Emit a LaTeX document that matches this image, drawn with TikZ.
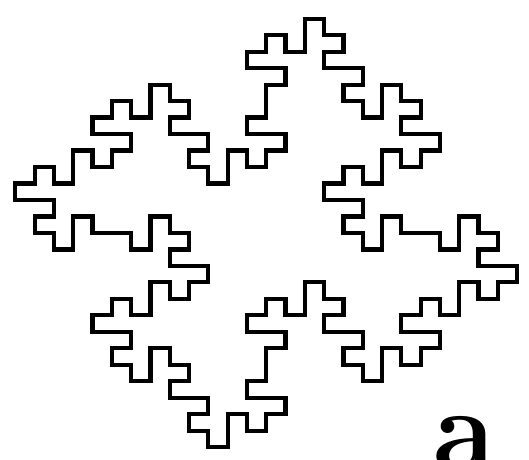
\documentclass[tikz,border=0pt]{standalone}
\begin{document}
\begin{tikzpicture}[x=1pt,y=1pt]
\tikzset{fractal/.style={line width=4.2pt, line join=miter, draw=black},
         tag/.style={inner sep=0pt, font=\fontsize{115}{115}\selectfont\bfseries}}
\useasboundingbox (0,0) rectangle (529,-459);
\clip (0,0) rectangle (529,-459);
\def\quarter{15/0,15/2,14/2,14/1,13/1,13/2,12/2,12/3,14/3,14/4,13/4,13/6,12/6,12/7,14/7,14/8,13/8,13/9,12/9,12/8,11/8,11/10,10/10,10/9,9/9,9/8,10/8,10/7,8/7,8/6,9/6,9/5,8/5,8/4,7/4,7/6,6/6,6/5,5/5,5/6,4/6,4/7,6/7,6/8,5/8,5/9,4/9,4/8,3/8,3/10,2/10,2/9,1/9,1/10,0/10}
\begin{scope}[shift={(15.3pt,-18.7pt)}, x=19.3pt, y=-16.48pt]
\draw[fractal] (15.5,0)
  \foreach \a/\b in \quarter { -- (\a,\b) }
  \foreach \a/\b in \quarter { -- (\b,26-\a) }
  \foreach \a/\b in \quarter { -- (26-\a,26-\b) }
  \foreach \a/\b in \quarter { -- (26-\b,\a) } -- cycle;
\end{scope}
\node[tag, anchor=base] (label) at (465,-468) {a};
\end{tikzpicture}
\end{document}
